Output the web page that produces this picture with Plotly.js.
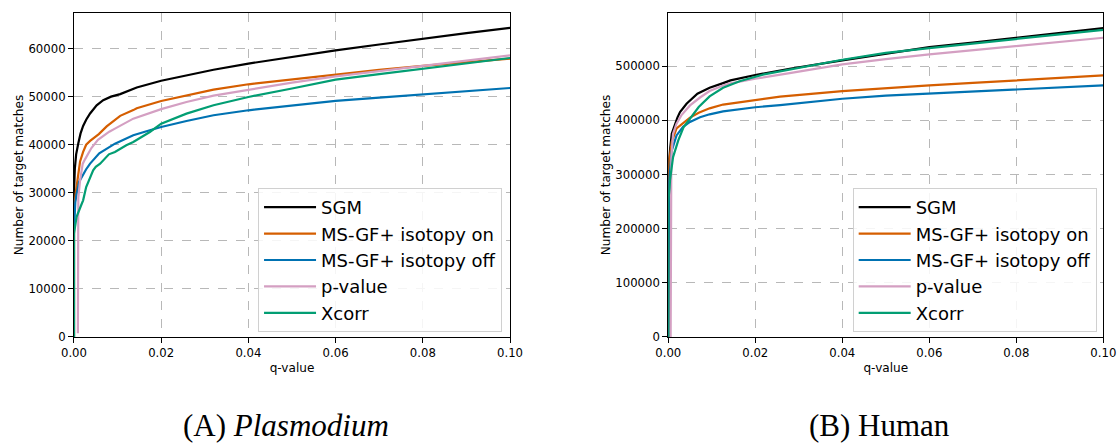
<!DOCTYPE html>
<html>
<head>
<meta charset="utf-8">
<script src="https://cdn.plot.ly/plotly-3.0.1.min.js"></script>
<style>html,body{margin:0;padding:0;background:#fff;}#chart{width:1119px;height:448px;}</style>
</head>
<body>
<div id="chart"></div>
<script>
// ---------- Series names & colours ----------
const seriesNames = ["SGM", "MS-GF+ isotopy on", "MS-GF+ isotopy off", "p-value", "Xcorr"];
const seriesColors = ["#000000", "#d55e00", "#0072b2", "#d49fc2", "#029e73"];

// ---------- (A) Plasmodium ----------
const plasSGM_x = [0, 0, 0.0002, 0.0005, 0.001, 0.0015, 0.0021, 0.0028, 0.0037, 0.0052, 0.0067, 0.0085, 0.0106, 0.0144, 0.02, 0.0258, 0.032, 0.04, 0.05, 0.06, 0.07, 0.08, 0.09, 0.1];
const plasSGM_y = [0, 30000, 35000, 38000, 40300, 42300, 43900, 45200, 46500, 48200, 49270, 50000, 50520, 51900, 53300, 54450, 55600, 56870, 58300, 59640, 60850, 62070, 63200, 64290];

const plasOn_x = [0, 0, 0.0004, 0.00085, 0.0014, 0.0021, 0.0028, 0.0037, 0.0057, 0.0075, 0.0095, 0.0106, 0.0136, 0.0144, 0.02, 0.0258, 0.032, 0.04, 0.05, 0.06, 0.07, 0.08, 0.09, 0.1];
const plasOn_y = [0, 26000, 30000, 33000, 36500, 38500, 40000, 40800, 42200, 43800, 45100, 46000, 47200, 47600, 49100, 50280, 51460, 52570, 53600, 54650, 55550, 56380, 57150, 57900];

const plasOff_x = [0, 0, 0.0003, 0.0006, 0.0012, 0.00175, 0.0028, 0.0037, 0.0058, 0.0094, 0.0136, 0.0174, 0.02, 0.0258, 0.032, 0.04, 0.05, 0.06, 0.07, 0.08, 0.09, 0.1];
const plasOff_y = [0, 22000, 28000, 29800, 32300, 33300, 34900, 36060, 38200, 40220, 41960, 43000, 43690, 44940, 46120, 47160, 48200, 49100, 49800, 50490, 51150, 51800];

const plasP_x = [0.0009, 0.0009, 0.001, 0.0014, 0.002, 0.0025, 0.004, 0.0055, 0.0081, 0.0094, 0.0136, 0.02, 0.0258, 0.032, 0.04, 0.05, 0.06, 0.07, 0.08, 0.09, 0.1];
const plasP_y = [800, 20000, 29000, 32600, 36000, 36900, 39300, 41000, 42700, 43340, 45420, 47400, 48890, 50200, 51460, 52900, 54230, 55300, 56310, 57450, 58600];

const plasX_x = [0, 0, 0.0006, 0.00085, 0.0016, 0.0021, 0.0028, 0.0044, 0.005, 0.006, 0.008, 0.0094, 0.012, 0.0136, 0.0174, 0.02, 0.0258, 0.032, 0.04, 0.05, 0.06, 0.07, 0.08, 0.09, 0.1];
const plasX_y = [0, 21500, 25000, 25700, 27300, 28430, 31200, 34670, 35400, 36060, 38000, 38490, 39900, 40570, 42650, 44380, 46460, 48200, 49930, 51700, 53540, 54700, 55830, 56950, 58040];

// ---------- (B) Human ----------
const humSGM_x = [0, 0, 0.00015, 0.0008, 0.0015, 0.0021, 0.0027, 0.0036, 0.0042, 0.0067, 0.0095, 0.0126, 0.0143, 0.02, 0.022, 0.0279, 0.04, 0.05, 0.06, 0.07, 0.08, 0.09, 0.1];
const humSGM_y = [0, 300000, 326000, 375000, 393600, 405000, 415100, 424400, 430500, 449100, 460000, 468600, 473600, 483500, 486500, 495000, 510500, 522500, 535000, 543500, 552300, 561000, 570100];

const humOn_x = [0, 0, 0.0003, 0.0008, 0.0019, 0.0035, 0.005, 0.007, 0.0095, 0.0126, 0.0165, 0.02, 0.0257, 0.04, 0.05, 0.06, 0.07, 0.08, 0.09, 0.1];
const humOn_y = [0, 280000, 330000, 360000, 385000, 395000, 405000, 414000, 422000, 429000, 433600, 437500, 443500, 453900, 459500, 464300, 469000, 473600, 478200, 482800];

const humOff_x = [0, 0, 0.00015, 0.0008, 0.0019, 0.0034, 0.005, 0.0073, 0.0095, 0.0126, 0.0165, 0.02, 0.0257, 0.04, 0.05, 0.06, 0.07, 0.08, 0.09, 0.1];
const humOff_y = [0, 250000, 283000, 344000, 372000, 388000, 397000, 405500, 411000, 416500, 420500, 424000, 428000, 439700, 445500, 449000, 452700, 456300, 460300, 464300];

const humP_x = [0.00055, 0.00055, 0.0007, 0.0011, 0.0019, 0.003, 0.0036, 0.005, 0.0073, 0.0095, 0.0126, 0.0143, 0.02, 0.022, 0.0279, 0.04, 0.05, 0.06, 0.07, 0.08, 0.09, 0.1];
const humP_y = [0, 250000, 330000, 375000, 393600, 409000, 415100, 427400, 442000, 453900, 464300, 468000, 476600, 479000, 487100, 503100, 513000, 521500, 529200, 536900, 544600, 552300];

const humX_x = [0, 0, 0.0003, 0.0004, 0.0011, 0.0023, 0.0035, 0.005, 0.007, 0.0095, 0.0126, 0.0164, 0.02, 0.022, 0.04, 0.05, 0.06, 0.07, 0.08, 0.09, 0.1];
const humX_y = [0, 250000, 275000, 289000, 332000, 362800, 387000, 402800, 424400, 444000, 460000, 472000, 481000, 484700, 511700, 524500, 533200, 541800, 550400, 558700, 567000];

// ---------- Axis ticks ----------
const xTickVals = [0, 0.02, 0.04, 0.06, 0.08, 0.1];
const xTickText = ["0.00", "0.02", "0.04", "0.06", "0.08", "0.10"];
const plasYTicks = [0, 10000, 20000, 30000, 40000, 50000, 60000];
const humYTicks = [0, 100000, 200000, 300000, 400000, 500000];

const captionA = "(A) <i>Plasmodium</i>";
const captionB = "(B) Human";

const plasSeries = [[plasSGM_x, plasSGM_y], [plasOn_x, plasOn_y], [plasOff_x, plasOff_y], [plasP_x, plasP_y], [plasX_x, plasX_y]];
const humSeries = [[humSGM_x, humSGM_y], [humOn_x, humOn_y], [humOff_x, humOff_y], [humP_x, humP_y], [humX_x, humX_y]];

const traces = [];
plasSeries.forEach((s, i) => traces.push({
  type: "scatter", mode: "lines", x: s[0], y: s[1], name: seriesNames[i],
  line: {color: seriesColors[i], width: 2.2}, xaxis: "x", yaxis: "y", legend: "legend"
}));
humSeries.forEach((s, i) => traces.push({
  type: "scatter", mode: "lines", x: s[0], y: s[1], name: seriesNames[i],
  line: {color: seriesColors[i], width: 2.2}, xaxis: "x2", yaxis: "y2", legend: "legend2"
}));

const font = {family: "DejaVu Sans", size: 11.7, color: "#000"};
const titleFont = {family: "DejaVu Sans", size: 12.1, color: "#000"};
const axisCommon = {
  showgrid: true, gridcolor: "#b8b8b8", griddash: "dash", gridwidth: 1,
  showline: true, mirror: true, linecolor: "#000", linewidth: 1,
  ticks: "outside", ticklen: 5, tickwidth: 1, tickcolor: "#000",
  zeroline: false, tickfont: font
};
const legendCommon = {
  font: {family: "DejaVu Sans", size: 18, color: "#000"},
  bgcolor: "rgba(255,255,255,0.85)", bordercolor: "#d0d0d0", borderwidth: 1,
  xanchor: "left", yanchor: "top", itemwidth: 52, tracegroupgap: 0
};

const layout = {
  width: 1119, height: 448,
  margin: {l: 0, r: 0, t: 0, b: 0},
  paper_bgcolor: "#fff", plot_bgcolor: "#fff",
  font: font,
  xaxis: Object.assign({}, axisCommon, {domain: [0.0661, 0.4558], range: [0, 0.1], tickvals: xTickVals, ticktext: xTickText, anchor: "y",
    title: {text: "q-value", font: titleFont, standoff: 4}}),
  yaxis: Object.assign({}, axisCommon, {domain: [0.2478, 0.971], range: [0, 67400], tickvals: plasYTicks, tickformat: "d", anchor: "x",
    title: {text: "Number of target matches", font: titleFont}}),
  xaxis2: Object.assign({}, axisCommon, {domain: [0.5972, 0.9860], range: [0, 0.1], tickvals: xTickVals, ticktext: xTickText, anchor: "y2",
    title: {text: "q-value", font: titleFont, standoff: 4}}),
  yaxis2: Object.assign({}, axisCommon, {domain: [0.2478, 0.971], range: [0, 598000], tickvals: humYTicks, tickformat: "d", anchor: "x2",
    title: {text: "Number of target matches", font: titleFont}}),
  legend: Object.assign({}, legendCommon, {x: 0.2306, y: 0.5804}),
  legend2: Object.assign({}, legendCommon, {x: 0.762, y: 0.5804}),
  showlegend: true,
  annotations: [
    {text: captionA, xref: "paper", yref: "paper", x: 0.2556, y: 0.006, xanchor: "center", yanchor: "bottom", showarrow: false,
     font: {family: "Liberation Serif", size: 31, color: "#000"}},
    {text: captionB, xref: "paper", yref: "paper", x: 0.7864, y: 0.006, xanchor: "center", yanchor: "bottom", showarrow: false,
     font: {family: "Liberation Serif", size: 31, color: "#000"}}
  ]
};

Plotly.newPlot("chart", traces, layout, {displayModeBar: false, staticPlot: true});
</script>
</body>
</html>
